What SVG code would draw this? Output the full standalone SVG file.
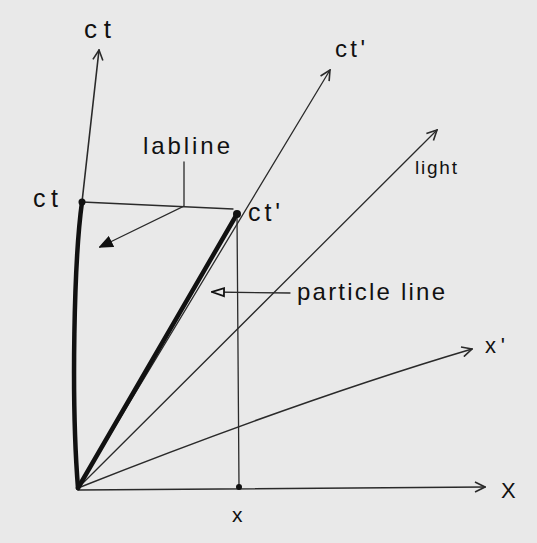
<svg xmlns="http://www.w3.org/2000/svg" width="537" height="543" viewBox="0 0 537 543">
<defs>
<style>
.thin{fill:none;stroke:#2a2a2a;stroke-width:1.3;stroke-linecap:round}
.axis{fill:none;stroke:#2a2a2a;stroke-width:1.6;stroke-linecap:round}
.thick{fill:none;stroke:#111;stroke-width:4.5;stroke-linecap:round}
.lbl{font-family:"Liberation Sans","DejaVu Sans",sans-serif;fill:#111;font-size:22px}
</style>
<marker id="vee" viewBox="0 0 12 12" refX="11" refY="6" markerWidth="12" markerHeight="12" markerUnits="userSpaceOnUse" orient="auto">
<path d="M1,1 L11,6 L1,11" fill="none" stroke="#2a2a2a" stroke-width="1.6"/>
</marker>
<marker id="tri" viewBox="0 0 14 12" refX="13" refY="6" markerWidth="14" markerHeight="12" markerUnits="userSpaceOnUse" orient="auto">
<path d="M1,1 L13,6 L1,11 Z" fill="#111" stroke="#111" stroke-width="1.5"/>
</marker>
<marker id="otri" viewBox="0 0 14 12" refX="13" refY="6" markerWidth="14" markerHeight="12" markerUnits="userSpaceOnUse" orient="auto">
<path d="M1,2 L13,6 L1,10 Z" fill="#e9e9e9" stroke="#111" stroke-width="1.8"/>
</marker>
</defs>
<rect width="537" height="543" fill="#e9e9e9"/>
<g id="connectors">
<path id="ct-axis" class="axis" d="M82,202 L99,50" marker-end="url(#vee)"/>
<path id="ctp-axis" class="thin" d="M78,488 L330,70" marker-end="url(#vee)"/>
<path id="light-line" class="thin" d="M78,488 L437,130" marker-end="url(#vee)"/>
<path id="x-axis" class="axis" d="M78,490 L485,487" marker-end="url(#vee)"/>
<path id="xp-axis" class="axis" d="M78,488 Q300,400 472,349" marker-end="url(#vee)"/>
<path id="lab-line" class="thick" d="M78,488 C71,400 74,260 82,202"/>
<path id="particle-line" class="thick" d="M78,488 L237,214"/>
<path id="ct-proj" class="thin" d="M82,202 L233,209"/>
<path id="x-proj" class="thin" d="M237,214 L239,487"/>
<path id="labline-ptr" class="thin" d="M184,162 L184,206 L100,247" marker-end="url(#tri)"/>
<path id="particle-ptr" class="thin" d="M290,293 L212,292" marker-end="url(#otri)"/>
</g>
<g id="dots" fill="#111">
<circle cx="82" cy="202" r="3.5"/>
<circle cx="237" cy="214" r="4"/>
<circle cx="239" cy="487" r="3"/>
</g>
<g id="labels">
<text class="lbl" x="84" y="38" textLength="27" style="font-size:26px">ct</text>
<text class="lbl" x="33" y="207" textLength="25" style="font-size:25px">ct</text>
<text class="lbl" x="143" y="154" textLength="87" style="font-size:24px">labline</text>
<text class="lbl" x="248" y="221" textLength="32" style="font-size:25px">ct'</text>
<text class="lbl" x="335" y="57" textLength="30" style="font-size:24px">ct'</text>
<text class="lbl" x="415" y="174" textLength="42" style="font-size:19px">light</text>
<text class="lbl" x="297" y="300" textLength="148" style="font-size:24px">particle line</text>
<text class="lbl" x="485" y="353" textLength="20">x'</text>
<text class="lbl" x="501" y="498" style="font-size:22px">X</text>
<text class="lbl" x="232" y="522" style="font-size:21px">x</text>
</g>
</svg>
